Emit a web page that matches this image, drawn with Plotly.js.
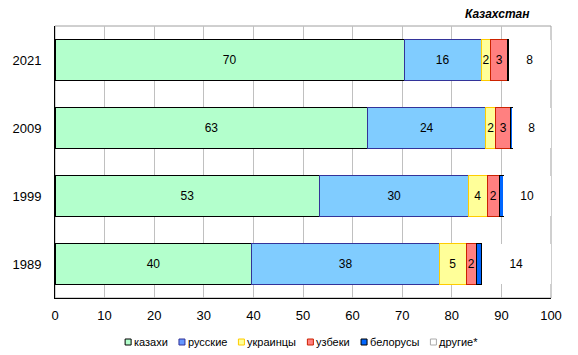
<!DOCTYPE html>
<html>
<head>
<meta charset="utf-8">
<script src="https://cdn.plot.ly/plotly-3.0.1.min.js"></script>
<style>html,body{margin:0;padding:0;background:#fff;}#chart{width:578px;height:355px;}</style>
</head>
<body>
<div id="chart"></div>
<script>
// ---- data ----
var years = ['1989', '1999', '2009', '2021'];
var seriesNames = ['казахи', 'русские', 'украинцы', 'узбеки', 'белорусы', 'другие*'];
var kazakhs    = [39.7, 53.4, 63.1, 70.4];
var russians   = [37.8, 30.0, 23.7, 15.5];
var ukrainians = [5.4, 3.7, 2.1, 2.0];
var uzbeks     = [2.0, 2.48, 2.9, 3.3];
var belarus    = [1.1, 0.8, 0.4, 0.3];
var others     = [14.0, 9.62, 7.8, 8.4];
var titleText = 'Казахстан';

var seriesValues = [kazakhs, russians, ukrainians, uzbeks, belarus, others];
var fills   = ['#B3FFCC', '#80CCFF', '#FFFF99', '#FF8080', '#0066FF', '#FFFFFF'];
var borders = ['#000000', '#333399', '#FFCC00', '#CC2200', '#000000', 'rgba(0,0,0,0)'];
var legFills   = ['#B3FFCC', '#6699FF', '#FFFF99', '#FF8080', '#0066FF', '#FFFFFF'];
var legBorders = ['#000000', '#333399', '#FFCC00', '#CC2200', '#000000', '#AAAAAA'];
var showText = [true, true, true, true, false, true];

var FONT = 'Arial, "Liberation Sans", sans-serif';

var traces = seriesNames.map(function (name, i) {
  return {
    type: 'bar',
    orientation: 'h',
    name: name,
    y: years,
    x: seriesValues[i],
    marker: { color: fills[i], line: { color: borders[i], width: 1 } },
    text: showText[i] ? seriesValues[i].map(function (v) { return String(Math.round(v)); }) : null,
    textposition: showText[i] ? 'inside' : 'none',
    insidetextanchor: 'middle',
    textangle: 0,
    textfont: { family: FONT, size: 12, color: '#000' },
    hoverinfo: 'x+name',
    showlegend: false
  };
});

// plot geometry (pixels)
var W = 578, H = 355;
var mL = 55, mR = 27, mT = 26, mB = 57;
var pw = W - mL - mR, ph = H - mT - mB;
function px2x(px) { return (px - mL) / pw; }
function py2y(py) { return (H - mB - py) / ph; }

// custom compact legend
var ctx = document.createElement('canvas').getContext('2d');
ctx.font = '11px ' + FONT;
var mk = 6, gapAfterMk = 2, gapItem = 12;
var widths = seriesNames.map(function (n) { return ctx.measureText(n).width; });
var total = 0;
widths.forEach(function (w, i) { total += mk + gapAfterMk + w + (i < widths.length - 1 ? gapItem : 0); });
var cx = 301, legY = 342;
var xpos = cx - total / 2;
var shapes = [];
var annotations = [];
// gray frame (top/right)
shapes.push({ type: 'rect', xref: 'paper', yref: 'paper', x0: 0, x1: 1, y0: 0, y1: 1,
  line: { color: '#A0A0A0', width: 1 }, fillcolor: 'rgba(0,0,0,0)', layer: 'below' });
seriesNames.forEach(function (n, i) {
  shapes.push({ type: 'rect', xref: 'paper', yref: 'paper',
    x0: px2x(xpos), x1: px2x(xpos + mk), y0: py2y(legY + mk / 2), y1: py2y(legY - mk / 2),
    line: { color: legBorders[i], width: 1 }, fillcolor: legFills[i] });
  xpos += mk + gapAfterMk;
  annotations.push({ xref: 'paper', yref: 'paper', x: px2x(xpos - 1), y: py2y(legY),
    xanchor: 'left', yanchor: 'middle', showarrow: false, text: n,
    font: { family: FONT, size: 11, color: '#000' } });
  xpos += widths[i] + gapItem;
});
annotations.push({ xref: 'paper', yref: 'paper', x: px2x(497), y: py2y(14),
  xanchor: 'center', yanchor: 'middle', showarrow: false,
  text: '<b><i>' + titleText + '</i></b>', font: { family: FONT, size: 12, color: '#000' } });

var layout = {
  width: W, height: H,
  margin: { l: mL, r: mR, t: mT, b: mB, pad: 0 },
  paper_bgcolor: '#fff', plot_bgcolor: '#fff',
  barmode: 'stack',
  bargap: 0.41,
  showlegend: false,
  font: { family: FONT, size: 12, color: '#000' },
  uniformtext: { minsize: 12, mode: 'show' },
  xaxis: {
    range: [0, 100], dtick: 10, tick0: 0,
    showgrid: true, gridcolor: '#C0C0C0', gridwidth: 1,
    showline: true, linecolor: '#000', linewidth: 1,
    zeroline: false, ticks: '', ticklabelstandoff: 5,
    tickfont: { family: FONT, size: 13, color: '#000' },
    fixedrange: true
  },
  yaxis: {
    type: 'category', categoryorder: 'array', categoryarray: years,
    showgrid: false, showline: true, linecolor: '#000', linewidth: 1,
    zeroline: false, ticks: '', ticklabelstandoff: 10,
    tickfont: { family: FONT, size: 13, color: '#000' },
    fixedrange: true
  },
  shapes: shapes,
  annotations: annotations
};

Plotly.newPlot('chart', traces, layout, { displayModeBar: false, staticPlot: true });
</script>
</body>
</html>
